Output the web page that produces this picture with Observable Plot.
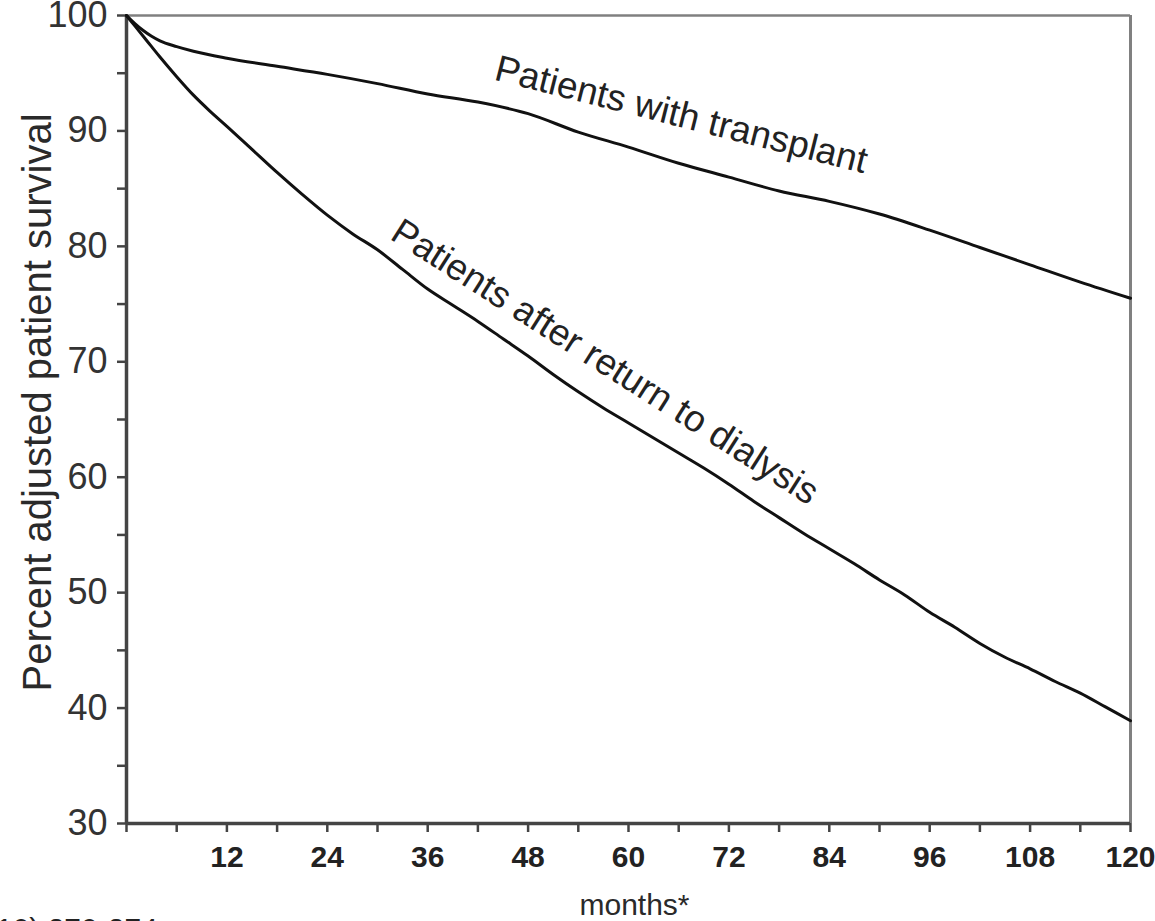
<!DOCTYPE html>
<html>
<head>
<meta charset="utf-8">
<script src="https://cdn.jsdelivr.net/npm/d3@7"></script>
<script src="https://cdn.jsdelivr.net/npm/@observablehq/plot@0.6"></script>
<style>
  html, body { margin: 0; padding: 0; background: #fff; overflow: hidden; width: 1155px; height: 921px; }
  #chart { position: absolute; left: 0; top: 0; }
  #source { position: absolute; left: -14px; top: 912px; font: 30px "Liberation Sans", Arial, sans-serif; color: #222; white-space: nowrap; }
</style>
</head>
<body>
<div id="chart"></div>
<div id="source">(10) 270-274</div>
<script>
// ---- Data ----
const transplantMonths = [0, 1, 2, 3, 4, 6, 8, 12, 18, 24, 30, 36, 42, 48, 54, 60, 66, 72, 78, 84, 90, 96, 102, 108, 114, 120];
const transplantValues = [100, 99.3, 98.7, 98.2, 97.8, 97.3, 96.9, 96.3, 95.6, 94.9, 94.1, 93.2, 92.5, 91.5, 89.9, 88.6, 87.2, 86.0, 84.8, 83.9, 82.8, 81.4, 79.9, 78.4, 76.9, 75.5];

const dialysisMonths = [0, 1, 2, 3, 4, 6, 8, 10, 12, 15, 18, 21, 24, 27, 30, 33, 36, 39, 42, 45, 48, 51, 54, 57, 60, 63, 66, 69, 72, 75, 78, 81, 84, 87, 90, 93, 96, 99, 102, 105, 108, 111, 114, 117, 120];
const dialysisValues = [100, 99.1, 98.2, 97.3, 96.4, 94.7, 93.1, 91.7, 90.4, 88.4, 86.4, 84.5, 82.7, 81.1, 79.7, 78.0, 76.3, 74.9, 73.5, 72.0, 70.5, 68.9, 67.4, 66.0, 64.7, 63.4, 62.1, 60.8, 59.4, 57.9, 56.5, 55.1, 53.8, 52.5, 51.1, 49.8, 48.3, 47.0, 45.6, 44.4, 43.4, 42.3, 41.3, 40.1, 38.9];

const xMajorTicks = [12, 24, 36, 48, 60, 72, 84, 96, 108, 120];
const xMinorTicks = [0, 6, 18, 30, 42, 54, 66, 78, 90, 102, 114];
const yMajorTicks = [30, 40, 50, 60, 70, 80, 90, 100];
const yMinorTicks = [35, 45, 55, 65, 75, 85, 95];

const seriesNames = ["Patients with transplant", "Patients after return to dialysis"];
const labelMonths = [66.3, 57.2];
const xTitle = "months*";
const yTitle = "Percent adjusted patient survival";

// ---- Build tables ----
const transplant = transplantMonths.map((m, i) => ({month: m, value: transplantValues[i]}));
const dialysis = dialysisMonths.map((m, i) => ({month: m, value: dialysisValues[i]}));
function valueAt(months, values, m) {
  const i = d3.bisectRight(months, m) - 1;
  const j = Math.min(i + 1, months.length - 1);
  const t = j === i ? 0 : (m - months[i]) / (months[j] - months[i]);
  return values[i] + t * (values[j] - values[i]);
}
const seriesLabels = [
  {text: seriesNames[0], month: labelMonths[0], value: valueAt(transplantMonths, transplantValues, labelMonths[0])},
  {text: seriesNames[1], month: labelMonths[1], value: valueAt(dialysisMonths, dialysisValues, labelMonths[1])}
];

const font = "'Liberation Sans', Arial, Helvetica, sans-serif";
const axisColor = "#444";

const chart = Plot.plot({
  width: 1155,
  height: 921,
  marginLeft: 126,
  marginRight: 25,
  marginTop: 15,
  marginBottom: 98,
  style: {fontFamily: font, background: "white", overflow: "visible", color: "#2a2a2a"},
  x: {domain: [0, 120]},
  y: {domain: [30, 100]},
  marks: [
    // frame top & right (lighter)
    Plot.ruleY([100], {stroke: "#808080", strokeWidth: 2.5}),
    Plot.ruleX([120], {stroke: "#808080", strokeWidth: 3}),
    // y axis ticks and labels
    Plot.axisY({ticks: yMajorTicks, tickSize: 9, tickPadding: 10, tickFormat: d => String(d), fontSize: 36, stroke: axisColor, strokeWidth: 2.5, fill: "#333", label: null}),
    Plot.axisY({ticks: yMinorTicks, tickSize: 9, text: null, stroke: axisColor, strokeWidth: 2.5, label: null}),
    // x axis ticks and labels
    Plot.axisX({ticks: xMajorTicks, tickSize: 9, tickPadding: 13, tickFormat: d => String(d), fontSize: 30, fontWeight: "bold", stroke: axisColor, strokeWidth: 2.5, fill: "#222", label: null}),
    Plot.axisX({ticks: xMinorTicks, tickSize: 9, text: null, stroke: axisColor, strokeWidth: 2.5, label: null}),
    // axis lines
    Plot.ruleX([0], {stroke: axisColor, strokeWidth: 3.5}),
    Plot.ruleY([30], {stroke: axisColor, strokeWidth: 3.5}),
    // survival curves
    Plot.line(transplant, {x: "month", y: "value", stroke: "#111", strokeWidth: 3, curve: "monotone-x"}),
    Plot.line(dialysis, {x: "month", y: "value", stroke: "#111", strokeWidth: 3, curve: "monotone-x"}),
    // curve labels
    Plot.text([seriesLabels[0]], {x: "month", y: "value", text: "text", rotate: 14.2, dy: -49, fontSize: 37, fill: "#222"}),
    Plot.text([seriesLabels[1]], {x: "month", y: "value", text: "text", rotate: 32.5, dy: -47, fontSize: 37, fill: "#222"}),
    // axis titles
    Plot.text([yTitle], {frameAnchor: "left", textAnchor: "middle", lineAnchor: "middle", dx: -88, dy: -17, rotate: -90, fontSize: 40, fill: "#2a2a2a"}),
    Plot.text([xTitle], {frameAnchor: "bottom", textAnchor: "middle", lineAnchor: "middle", dx: 6, dy: 82, fontSize: 30, fill: "#2a2a2a"})
  ]
});
document.getElementById("chart").appendChild(chart);
</script>
</body>
</html>
